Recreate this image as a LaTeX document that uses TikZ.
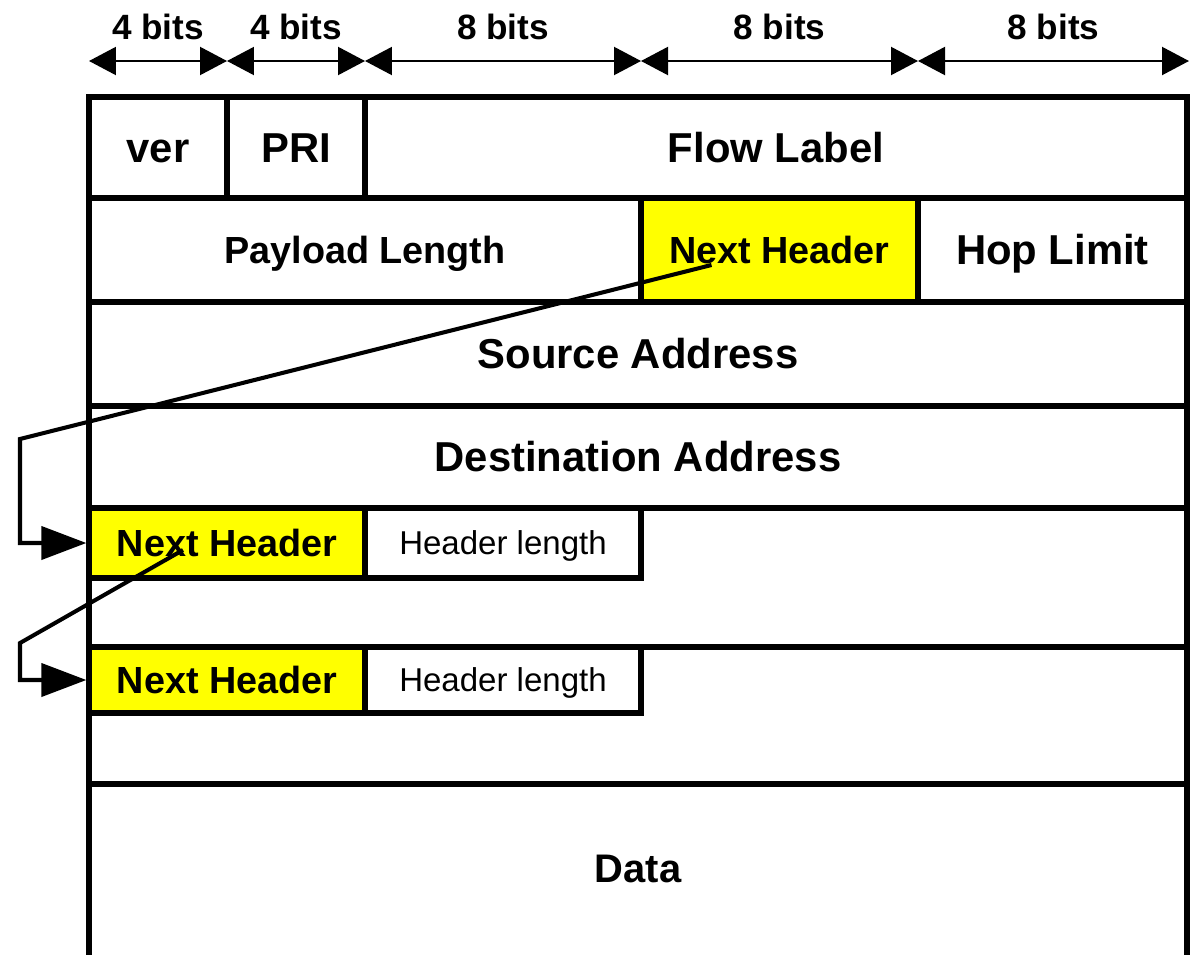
\documentclass[tikz,border=0pt]{standalone}
\usepackage{fontspec}
\setmainfont{Liberation Sans}
\usetikzlibrary{arrows.meta,calc}
\definecolor{nhyellow}{RGB}{255,255,0}
\begin{document}
\begin{tikzpicture}[x=0.02cm,y=-0.02cm,
  cell/.style={draw, line width=3.7pt, inner sep=0pt, outer sep=0pt, anchor=north west,
    font=\bfseries\fontsize{23.8}{28}\selectfont, text height=17pt, text depth=0pt},
  span/.style 2 args={minimum width={#1*0.02cm}, minimum height={#2*0.02cm}},
  midcell/.style={cell, font=\bfseries\fontsize{21.5}{25}\selectfont, text height=15.4pt},
  nhcell/.style={midcell, fill=nhyellow},
  lencell/.style={cell, fill=white, font=\fontsize{18.8}{22}\selectfont, text height=13.5pt},
  dim/.style={line width=1.2pt, {Triangle[length=0.54cm,width=0.56cm]}-{Triangle[length=0.54cm,width=0.56cm]}},
  dimlabel/.style={midway, yshift=0.68cm, font=\bfseries\fontsize{20}{24}\selectfont},
  conn/.style={line width=2.3pt, -{Triangle[length=0.9cm,width=0.66cm]}, shorten >=1.5pt}]
\useasboundingbox (0,0) rectangle (1204,954);

% field widths along the top
\coordinate (a0) at (89,61);
\coordinate (a1) at (227,61);
\coordinate (a2) at (365,61);
\coordinate (a3) at (641,61);
\coordinate (a4) at (918,61);
\coordinate (a5) at (1189,61);
\draw[dim] (a0) -- node[dimlabel] {4 bits} (a1);
\draw[dim] (a1) -- node[dimlabel] {4 bits} (a2);
\draw[dim] (a2) -- node[dimlabel] {8 bits} (a3);
\draw[dim] (a3) -- node[dimlabel] {8 bits} (a4);
\draw[dim] (a4) -- node[dimlabel] {8 bits} (a5);

% fixed IPv6 header
\node[cell, span={138}{101}] (ver) at (89,97) {ver};
\node[cell, span={138}{101}] (pri) at (227,97) {PRI};
\node[cell, span={822}{101}] (flow) at (365,97) {Flow Label};
\node[midcell, span={552}{104}] (payload) at (89,198) {Payload Length};
\node[nhcell, span={277}{104}] (nh0) at (641,198) {Next Header};
\node[cell, span={269}{104}] (hop) at (918,198) {Hop Limit};
\node[cell, span={1098}{104}] (src) at (89,302) {Source Address};
\node[cell, span={1098}{102}] (dst) at (89,406) {Destination Address};

% extension headers
\node[cell, span={1098}{139}] (ext1) at (89,508) {};
\node[cell, span={1098}{137}] (ext2) at (89,647) {};
\node[nhcell, span={276}{70}] (nh1) at (89,508) {Next Header};
\node[lencell, span={276}{70}] (hl1) at (365,508) {Header length};
\node[nhcell, span={276}{66}] (nh2) at (89,647) {Next Header};
\node[lencell, span={276}{66}] (hl2) at (365,647) {Header length};

% payload, running on past the lower edge
\node[cell, span={1098}{200}] (data) at (89,784) {};
\node[font=\bfseries\fontsize{22.7}{26}\selectfont, text height=16.2pt, text depth=0pt, inner sep=0pt]
  (datatext) at ($(data.north)+(0,84)$) {Data};

% next-header chain
\coordinate (s1) at ($(nh0.center)+(-68,15)$);
\coordinate (k1) at (20,439);
\coordinate (s2) at ($(nh1.center)+(-44,7)$);
\coordinate (k2) at (20,643);
\draw[conn] (s1) -- (k1) |- (nh1.west);
\draw[conn] (s2) -- (k2) |- (nh2.west);
\end{tikzpicture}
\end{document}
